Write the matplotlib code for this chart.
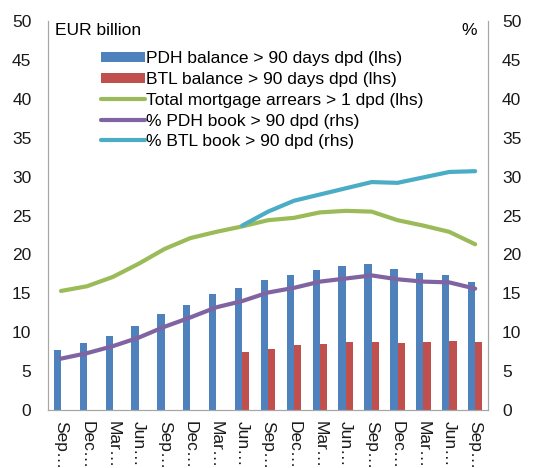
import matplotlib
matplotlib.use('Agg')
import matplotlib.pyplot as plt
import numpy as np

plt.rcParams['font.family'] = ['Liberation Sans', 'DejaVu Sans']

quarters = ['Sep…', 'Dec…', 'Mar…', 'Jun…', 'Sep…', 'Dec…', 'Mar…', 'Jun…', 'Sep…',
            'Dec…', 'Mar…', 'Jun…', 'Sep…', 'Dec…', 'Mar…', 'Jun…', 'Sep…']

pdh_balance = [7.7, 8.6, 9.5, 10.8, 12.3, 13.5, 14.9, 15.7, 16.7, 17.4, 18.0, 18.5, 18.8,
               18.1, 17.6, 17.4, 16.5]
btl_balance = [None] * 7 + [7.4, 7.8, 8.4, 8.5, 8.7, 8.8, 8.6, 8.7, 8.9, 8.8]
total_arrears = [15.3, 15.9, 17.1, 18.8, 20.7, 22.1, 22.9, 23.6, 24.4, 24.7, 25.4, 25.6, 25.5,
                 24.4, 23.7, 22.9, 21.3]
pdh_pct = [6.6, 7.3, 8.2, 9.3, 10.7, 11.9, 13.2, 14.0, 15.1, 15.7, 16.5, 16.9, 17.3,
           16.8, 16.5, 16.4, 15.6]
btl_pct = [None] * 7 + [23.7, 25.5, 26.9, 27.7, 28.5, 29.3, 29.2, 29.9, 30.6, 30.7]

blue = '#4F81BD'
red = '#C0504D'
green = '#9BBB59'
purple = '#8064A2'
cyan = '#4BACC6'
grey = '#A6A6A6'
fs = 12.5

x = np.arange(len(quarters))
w = 0.28

fig = plt.figure(figsize=(5.46, 4.68), dpi=100)
ax = fig.add_axes([0.088, 0.124, 0.806, 0.831])
ax2 = ax.twinx()

btl_x = [i for i, v in enumerate(btl_balance) if v is not None]
btl_v = [v for v in btl_balance if v is not None]
b1 = ax.bar(x - w / 2, pdh_balance, width=w, color=blue, label='PDH balance > 90 days dpd (lhs)')
b2 = ax.bar(np.array(btl_x) + w / 2, btl_v, width=w, color=red, label='BTL balance > 90 days dpd (lhs)')
l1, = ax.plot(x, total_arrears, color=green, lw=3, solid_capstyle='round',
              label='Total mortgage arrears > 1 dpd (lhs)')

cyan_x = [i for i, v in enumerate(btl_pct) if v is not None]
cyan_v = [v for v in btl_pct if v is not None]
l2, = ax2.plot(x, pdh_pct, color=purple, lw=3, solid_capstyle='round', label='% PDH book > 90 dpd (rhs)')
l3, = ax2.plot(cyan_x, cyan_v, color=cyan, lw=3, solid_capstyle='round', label='% BTL book > 90 dpd (rhs)')

for a in (ax, ax2):
    a.set_ylim(0, 50)
    a.set_yticks(range(0, 51, 5))
    a.set_xlim(-0.5, len(quarters) - 0.5)
    a.spines['top'].set_visible(False)
    for s in ('left', 'right', 'bottom'):
        a.spines[s].set_color(grey)
    a.tick_params(axis='y', length=0, labelsize=fs, pad=12, colors='#1a1a1a')

ax.set_xticks(x)
ax.set_xticklabels(quarters, rotation=270, fontsize=fs)
ax.tick_params(axis='x', length=0, pad=8, colors='#1a1a1a')
ax2.tick_params(axis='y', pad=10)

ax.text(0.015, 0.995, 'EUR billion', transform=ax.transAxes, fontsize=fs, va='top', ha='left')
ax.text(0.975, 0.995, '%', transform=ax.transAxes, fontsize=fs, va='top', ha='right')

leg = ax.legend(handles=[b1, b2, l1, l2, l3], loc='upper left', bbox_to_anchor=(0.105, 0.94),
                frameon=False, fontsize=fs, handlelength=2.5, handletextpad=0.1,
                labelspacing=0.32, borderaxespad=0)
for h in leg.legend_handles[:2]:
    h.set_height(7)
    h.set_y(1)

fig.savefig('out.png', dpi=100)
